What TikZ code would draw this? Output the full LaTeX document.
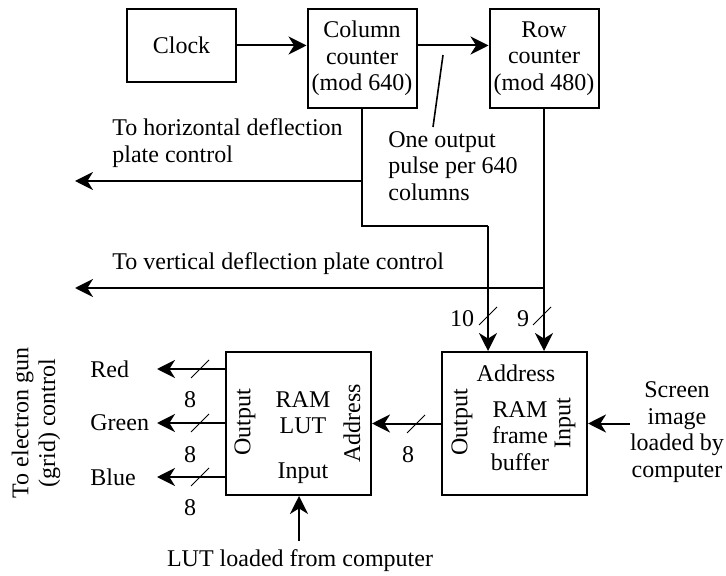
\documentclass[tikz,border=0pt]{standalone}
\usepackage{fontspec}
\setmainfont{Liberation Serif}
\usetikzlibrary{positioning,arrows.meta,calc}

% short slash across a bus line
\newcommand{\busmark}[1]{\draw[line width=0.5pt] (#1) +(-9,9) -- +(9,-9);}

\begin{document}
\begin{tikzpicture}[x=0.5pt, y=-0.5pt, font=\fontsize{12}{13.3}\selectfont,
  box/.style={draw, line width=1pt, inner sep=0pt, align=center},
  counter/.style={box, minimum width=54.5pt, minimum height=49.5pt},
  ram/.style={box, minimum width=72.5pt, minimum height=71.5pt},
  arr/.style={-{Stealth[length=9pt, width=9pt, inset=2.8pt]}, line width=1pt},
  lbl/.style={inner sep=0pt, align=center}]
\useasboundingbox (0,0) rectangle (726,576);

% counters
\node[box, minimum width=54.5pt, minimum height=36.5pt] (clk) at (181.5,45.5) {Clock};
\node[counter] (col) at (362,58.5) {Column\\ counter\\ (mod 640)};
\node[counter, right=35.5pt of col] (row) {Row\\ counter\\ (mod 480)};

% memories
\node[ram] (fb) at (514.5,423.5) {};
\node[ram] (lut) at (298.5,423.5) {};

\node[lbl] (fbaddr) at (516,373) {Address};
\node[lbl] (fbname) at (520,436) {RAM\\ frame\\ buffer};
\node[lbl, rotate=90] (fbout) at (462,422) {Output};
\node[lbl, rotate=90] (fbin) at (565,423) {Input};

\node[lbl] (lutname) at (303,412.5) {RAM\\ LUT};
\node[lbl] (lutin) at (303,473) {Input};
\node[lbl, rotate=90] (lutout) at (245,422) {Output};
\node[lbl, rotate=90] (lutaddr) at (352,423) {Address};

% labels
\node[lbl, anchor=west, align=left] (hlbl) at (112,143) {To horizontal deflection\\ plate control};
\node[lbl, anchor=west] (vlbl) at (112,264) {To vertical deflection plate control};
\node[lbl, anchor=west, align=left] (pulse) at (388,166) {One output\\ pulse per 640\\ columns};
\node[lbl] (scr) at (677,432) {Screen\\ image\\ loaded by\\ computer};
\node[lbl] (lutsrc) at (300,561) {LUT loaded from computer};
\node[lbl, rotate=90] (gun) at (36,423) {To electron gun\\ (grid) control};
\node[lbl, anchor=west] (red) at (90,369) {Red};
\node[lbl, anchor=west] (green) at (90,423) {Green};
\node[lbl, anchor=west] (blue) at (90,477) {Blue};

\coordinate (hdef) at (75,181);
\coordinate (vdef) at (75,288);
\coordinate (bend) at (488,226);
\coordinate (tick) at (443,55);
\coordinate (tickend) at (433,127);
\coordinate (tipx) at (157,0);
\coordinate (lutfeed) at (299,541);

% clock and counters
\draw[arr] (clk) -- (clk -| col.west);
\draw[arr] (col.east |- clk) -- (row.west |- clk);
\draw[line width=0.8pt] (tick) -- (tickend);
\draw[arr] (hdef -| col.south) -- (hdef);
\draw[arr] (vdef -| row.south) -- (vdef);
\draw[line width=1pt] (col.south) |- (bend);
\draw[arr] (bend) -- (bend |- fb.north);
\draw[arr] (row.south) -- (row.south |- fb.north);
\busmark{488,316} \node[lbl] (ten) at (462,319) {10};
\busmark{542,316} \node[lbl] (nine) at (523,319) {9};

% frame buffer to LUT
\draw[arr] (scr.west |- fb.east) -- (fb.east);
\draw[arr] (fb.west) -- (fb.west -| lut.east);
\busmark{416,424} \node[lbl] (n8) at (408,455) {8};
\draw[arr] (lutfeed) -- (lutfeed |- lut.south);

% colour outputs
\draw[arr] (lut.west |- red) -- (tipx |- red);
\draw[arr] (lut.west |- green) -- (tipx |- green);
\draw[arr] (lut.west |- blue) -- (tipx |- blue);
\busmark{200,369} \node[lbl] (r8) at (190,400) {8};
\busmark{200,423} \node[lbl] (g8) at (190,455) {8};
\busmark{200,477} \node[lbl] (b8) at (190,508) {8};
\end{tikzpicture}
\end{document}
